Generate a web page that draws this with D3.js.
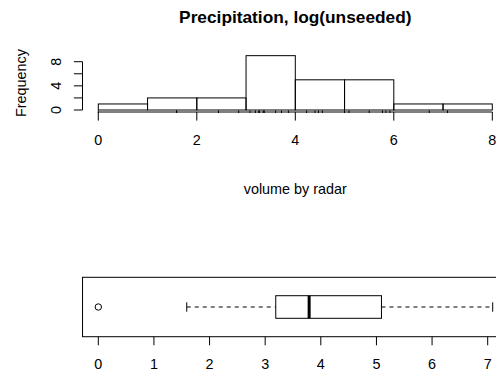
<!DOCTYPE html>
<html>
<head>
<meta charset="utf-8">
<script src="https://cdn.jsdelivr.net/npm/d3@7"></script>
<style>
  body { margin: 0; background: #fff; }
  text { font-family: "Liberation Sans", Arial, sans-serif; fill: #000; }
</style>
</head>
<body>
<div id="chart"></div>
<script>
var logRain = [0, 1.59, 1.59, 2.44, 2.85, 3.08, 3.19, 3.26, 3.27, 3.35, 3.37, 3.60, 3.72,
  3.86, 4.23, 4.40, 4.47, 4.55, 5.00, 5.09, 5.50, 5.77, 5.84, 5.92, 6.72, 7.09];

// histogram bins and counts
var binStart = [0, 1, 2, 3, 4, 5, 6, 7];
var binCount = [1, 2, 2, 9, 5, 5, 1, 1];

var histXTicks = [0, 2, 4, 6, 8];
var histYTicks = [0, 2, 4, 6, 8];
var histYLabels = [0, 4, 8];
var boxTicks = [0, 1, 2, 3, 4, 5, 6, 7];

var svgWidth = 496;
var svgHeight = 375;

var svg = d3.select("#chart")
  .append("svg")
  .attr("width", svgWidth)
  .attr("height", svgHeight);

// ---- histogram ----
var xHist = d3.scaleLinear().domain([0, 8]).range([98.3, 492.3]);
var yHist = d3.scaleLinear().domain([0, 8]).range([110, 61.7]);
var histAxisY = 112;
var histLeft = 82.5;

svg.append("text")
  .attr("x", xHist(4))
  .attr("y", 23)
  .attr("text-anchor", "middle")
  .style("font-size", "17.3px")
  .style("font-weight", "bold")
  .text("Precipitation, log(unseeded)");

// bars
svg.selectAll("rect.bar")
  .data(binStart)
  .enter()
  .append("rect")
  .attr("class", "bar")
  .attr("x", d => xHist(d))
  .attr("y", (d, i) => yHist(binCount[i]))
  .attr("width", d => xHist(d + 1) - xHist(d))
  .attr("height", (d, i) => yHist(0) - yHist(binCount[i]))
  .attr("fill", "none")
  .attr("stroke", "#000")
  .attr("stroke-width", 1);

// x axis
var xAxisG = svg.append("g");
xAxisG.append("line")
  .attr("x1", xHist(0)).attr("x2", xHist(8))
  .attr("y1", histAxisY).attr("y2", histAxisY)
  .attr("stroke", "#000");
xAxisG.selectAll("line.tick")
  .data(histXTicks)
  .enter()
  .append("line")
  .attr("class", "tick")
  .attr("x1", d => xHist(d)).attr("x2", d => xHist(d))
  .attr("y1", histAxisY).attr("y2", histAxisY + 8.6)
  .attr("stroke", "#000");
xAxisG.selectAll("text")
  .data(histXTicks)
  .enter()
  .append("text")
  .attr("x", d => xHist(d))
  .attr("y", 145)
  .attr("text-anchor", "middle")
  .style("font-size", "14.4px")
  .text(d => d);

// rug
svg.selectAll("line.rug")
  .data(logRain)
  .enter()
  .append("line")
  .attr("class", "rug")
  .attr("x1", d => xHist(d)).attr("x2", d => xHist(d))
  .attr("y1", histAxisY + 1).attr("y2", histAxisY - 1.6)
  .attr("stroke", "#000");

// y axis
var yAxisG = svg.append("g");
yAxisG.append("line")
  .attr("x1", histLeft).attr("x2", histLeft)
  .attr("y1", yHist(0)).attr("y2", yHist(8))
  .attr("stroke", "#000");
yAxisG.selectAll("line.tick")
  .data(histYTicks)
  .enter()
  .append("line")
  .attr("class", "tick")
  .attr("x1", histLeft).attr("x2", histLeft - 8.6)
  .attr("y1", d => yHist(d)).attr("y2", d => yHist(d))
  .attr("stroke", "#000");
yAxisG.selectAll("text")
  .data(histYLabels)
  .enter()
  .append("text")
  .attr("transform", d => `translate(61, ${yHist(d)}) rotate(-90)`)
  .attr("text-anchor", "middle")
  .style("font-size", "14.4px")
  .text(d => d);

svg.append("text")
  .attr("transform", "translate(26, 83) rotate(-90)")
  .attr("text-anchor", "middle")
  .style("font-size", "14.4px")
  .text("Frequency");

svg.append("text")
  .attr("x", xHist(4))
  .attr("y", 194)
  .attr("text-anchor", "middle")
  .style("font-size", "14.4px")
  .text("volume by radar");

// ---- boxplot ----
var xBox = d3.scaleLinear().domain([0, 7]).range([98.3, 487.7]);
var boxTop = 277.3, boxBottom = 336.7, boxMid = 307;

var sorted = logRain.slice().sort(d3.ascending);
var n = sorted.length;
var med = d3.median(sorted);
var lowerHalf = sorted.slice(0, Math.ceil(n / 2));
var upperHalf = sorted.slice(Math.floor(n / 2));
var q1 = d3.median(lowerHalf);
var q3 = d3.median(upperHalf);
var iqr = q3 - q1;
var inside = sorted.filter(d => d >= q1 - 1.5 * iqr && d <= q3 + 1.5 * iqr);
var whiskLo = d3.min(inside), whiskHi = d3.max(inside);
var outliers = sorted.filter(d => d < whiskLo || d > whiskHi);

// frame
svg.append("rect")
  .attr("x", xBox(-0.2836))
  .attr("y", boxTop)
  .attr("width", xBox(7.3736) - xBox(-0.2836))
  .attr("height", boxBottom - boxTop)
  .attr("fill", "none")
  .attr("stroke", "#000");

// whiskers
svg.selectAll("line.whisk")
  .data([[whiskLo, q1], [q3, whiskHi]])
  .enter()
  .append("line")
  .attr("class", "whisk")
  .attr("x1", d => xBox(d[0])).attr("x2", d => xBox(d[1]))
  .attr("y1", boxMid).attr("y2", boxMid)
  .attr("stroke", "#000")
  .attr("stroke-dasharray", "4,4");

svg.selectAll("line.staple")
  .data([whiskLo, whiskHi])
  .enter()
  .append("line")
  .attr("class", "staple")
  .attr("x1", d => xBox(d)).attr("x2", d => xBox(d))
  .attr("y1", boxMid - 4.7).attr("y2", boxMid + 4.7)
  .attr("stroke", "#000");

svg.append("rect")
  .attr("x", xBox(q1))
  .attr("y", 295.7)
  .attr("width", xBox(q3) - xBox(q1))
  .attr("height", 318.3 - 295.7)
  .attr("fill", "#fff")
  .attr("stroke", "#000");

svg.append("line")
  .attr("x1", xBox(med)).attr("x2", xBox(med))
  .attr("y1", 295.7).attr("y2", 318.3)
  .attr("stroke", "#000")
  .attr("stroke-width", 3);

svg.selectAll("circle.out")
  .data(outliers)
  .enter()
  .append("circle")
  .attr("class", "out")
  .attr("cx", d => xBox(d))
  .attr("cy", boxMid)
  .attr("r", 3.2)
  .attr("fill", "none")
  .attr("stroke", "#000");

// boxplot axis
svg.selectAll("line.btick")
  .data(boxTicks)
  .enter()
  .append("line")
  .attr("class", "btick")
  .attr("x1", d => xBox(d)).attr("x2", d => xBox(d))
  .attr("y1", boxBottom).attr("y2", boxBottom + 8.6)
  .attr("stroke", "#000");

svg.selectAll("text.blabel")
  .data(boxTicks)
  .enter()
  .append("text")
  .attr("class", "blabel")
  .attr("x", d => xBox(d))
  .attr("y", 369)
  .attr("text-anchor", "middle")
  .style("font-size", "14.4px")
  .text(d => d);
</script>
</body>
</html>
